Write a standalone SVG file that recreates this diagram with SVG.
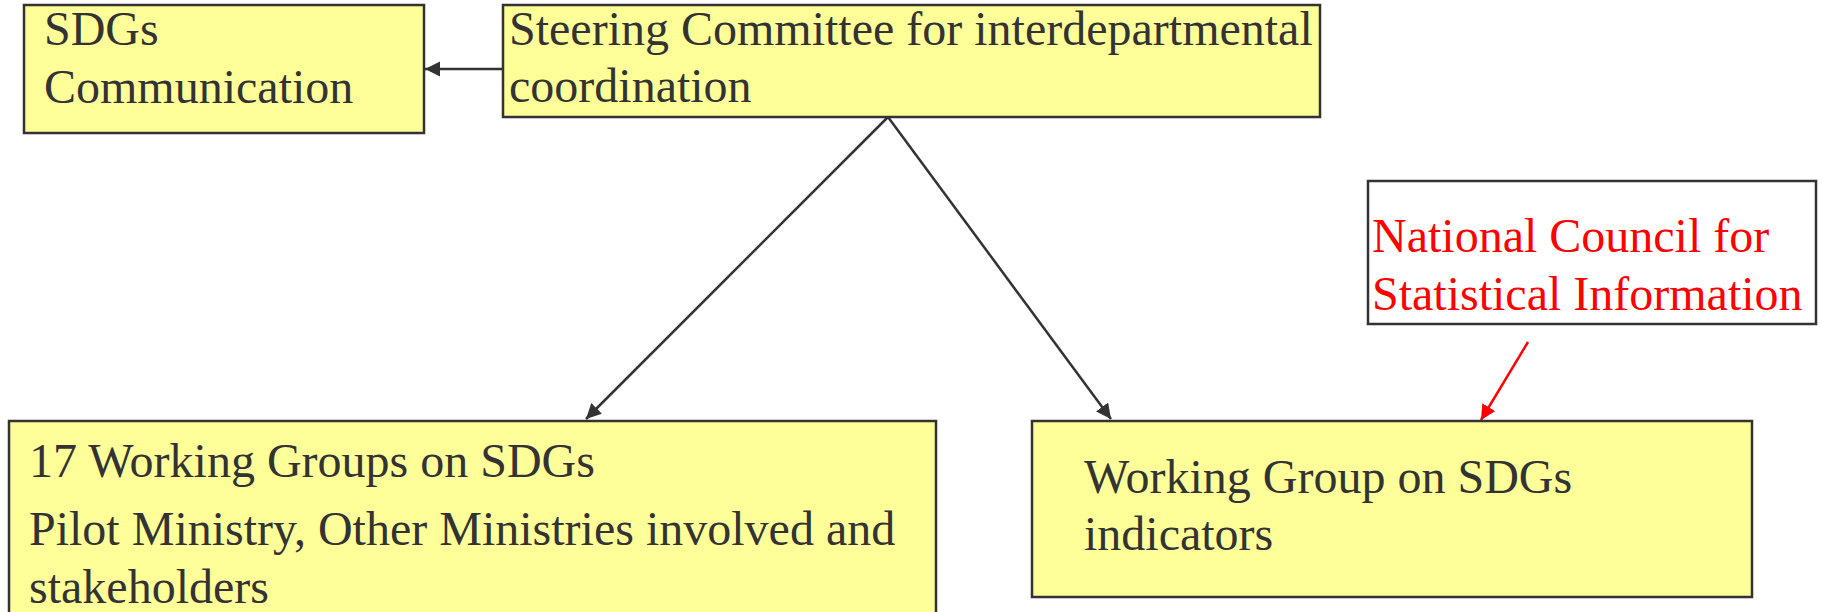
<svg xmlns="http://www.w3.org/2000/svg" width="1822" height="612" viewBox="0 0 1822 612">
<style>
.box{fill:#ffff99;stroke:#333;stroke-width:2.5}
.wbox{fill:#fff;stroke:#333;stroke-width:2.5}
.t{font-family:'Liberation Serif','Times New Roman',serif;font-size:48px;fill:#333}
.r{fill:#ff0000}
.c{stroke:#333;stroke-width:2.5;fill:none}
.cr{stroke:#ff0000;stroke-width:2.5;fill:none}
</style>
<defs>
<marker id="ah" markerUnits="userSpaceOnUse" markerWidth="16" markerHeight="16" refX="15" refY="7.5" orient="auto">
<path d="M0,0 L15,7.5 L0,15 z" fill="#333"/>
</marker>
<marker id="ahr" markerUnits="userSpaceOnUse" markerWidth="16" markerHeight="16" refX="15" refY="7.5" orient="auto">
<path d="M0,0 L15,7.5 L0,15 z" fill="#ff0000"/>
</marker>
</defs>
<rect width="1822" height="612" fill="#fff"/>
<g id="connectors">
<line class="c" x1="503" y1="69" x2="425" y2="69" marker-end="url(#ah)"/>
<line class="c" x1="888" y1="117" x2="586" y2="419" marker-end="url(#ah)"/>
<line class="c" x1="888" y1="117" x2="1111" y2="419" marker-end="url(#ah)"/>
<line class="cr" x1="1528" y1="342" x2="1481" y2="420" marker-end="url(#ahr)"/>
</g>
<g id="sdgs-communication">
<rect class="box" x="24" y="5" width="400" height="128"/>
<text class="t" x="44" y="45">SDGs</text>
<text class="t" x="44" y="103">Communication</text>
</g>
<g id="steering-committee">
<rect class="box" x="503" y="5" width="817" height="112"/>
<text class="t" x="509" y="45">Steering Committee for interdepartmental</text>
<text class="t" x="509" y="102">coordination</text>
</g>
<g id="national-council">
<rect class="wbox" x="1368" y="181" width="448" height="143"/>
<text class="t r" x="1372" y="252">National Council for</text>
<text class="t r" x="1372" y="310">Statistical Information</text>
</g>
<g id="working-groups">
<rect class="box" x="9" y="421" width="927" height="210"/>
<text class="t" x="29" y="477">17 Working Groups on SDGs</text>
<text class="t" x="29" y="545">Pilot Ministry, Other Ministries involved and</text>
<text class="t" x="29" y="603">stakeholders</text>
</g>
<g id="working-group-indicators">
<rect class="box" x="1032" y="421" width="720" height="176"/>
<text class="t" x="1084" y="493">Working Group on SDGs</text>
<text class="t" x="1084" y="550">indicators</text>
</g>
</svg>
